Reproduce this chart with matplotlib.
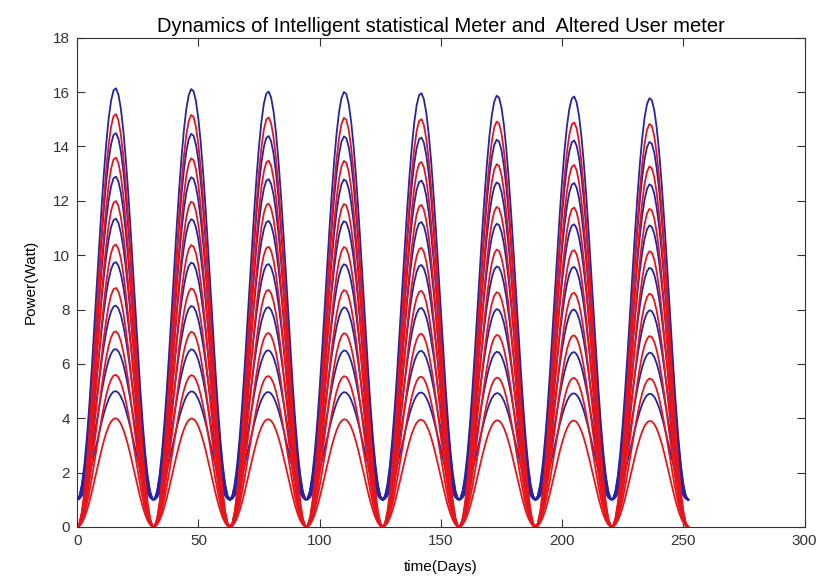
import numpy as np
import matplotlib
matplotlib.use('Agg')
import matplotlib.pyplot as plt

plt.rcParams['font.family'] = ['Liberation Sans Narrow', 'Liberation Sans', 'DejaVu Sans']

# Values
days = np.arange(0, 253)           # daily samples, last day ~252
period = 31.5                      # troughs at 0, 32, 63, 95, 126, 158, 189, 221, 252
meter_peaks = [16.15, 14.5, 12.9, 11.35, 9.75, 8.15, 6.55, 5.0]   # blue, base 1 W
user_peaks = [15.2, 13.6, 12.0, 10.4, 8.8, 7.2, 5.6, 4.0]         # red, base 0 W
meter_base = 1.0
cycle_scale = [1.0, 0.998, 0.992, 0.991, 0.988, 0.982, 0.980, 0.976]

xticks = [0, 50, 100, 150, 200, 250, 300]
yticks = [0, 2, 4, 6, 8, 10, 12, 14, 16, 18]


def curve(peak, base):
    cyc = np.minimum((days // period).astype(int), len(cycle_scale) - 1)
    scale = np.array(cycle_scale)[cyc]
    return base + (peak - base) * scale * np.sin(np.pi * days / period) ** 2


fig = plt.figure(figsize=(8.21, 5.81), dpi=100)
ax = fig.add_axes([0.094, 0.093, 0.886, 0.842])

for pb in meter_peaks:
    ax.plot(days, curve(pb, meter_base), color='#2424a4', lw=1.3)
for pr in user_peaks:
    ax.plot(days, curve(pr, 0.0), color='#e8141c', lw=1.3)

ax.set_xlim(0, 300)
ax.set_ylim(0, 18)
ax.set_xticks(xticks)
ax.set_yticks(yticks)
ax.tick_params(direction='in', top=True, right=True, labelsize=11, length=6,
               colors='#333333', pad=5)
for s in ax.spines.values():
    s.set_color('#333333')
    s.set_linewidth(0.8)

ax.set_xlabel('time(Days)', fontsize=11, labelpad=9)
ax.set_ylabel('Power(Watt)', fontsize=11, labelpad=11)
ax.set_title('Dynamics of Intelligent statistical Meter and  Altered User meter',
             fontsize=14.5, pad=4)

fig.savefig('out.png', dpi=100)
